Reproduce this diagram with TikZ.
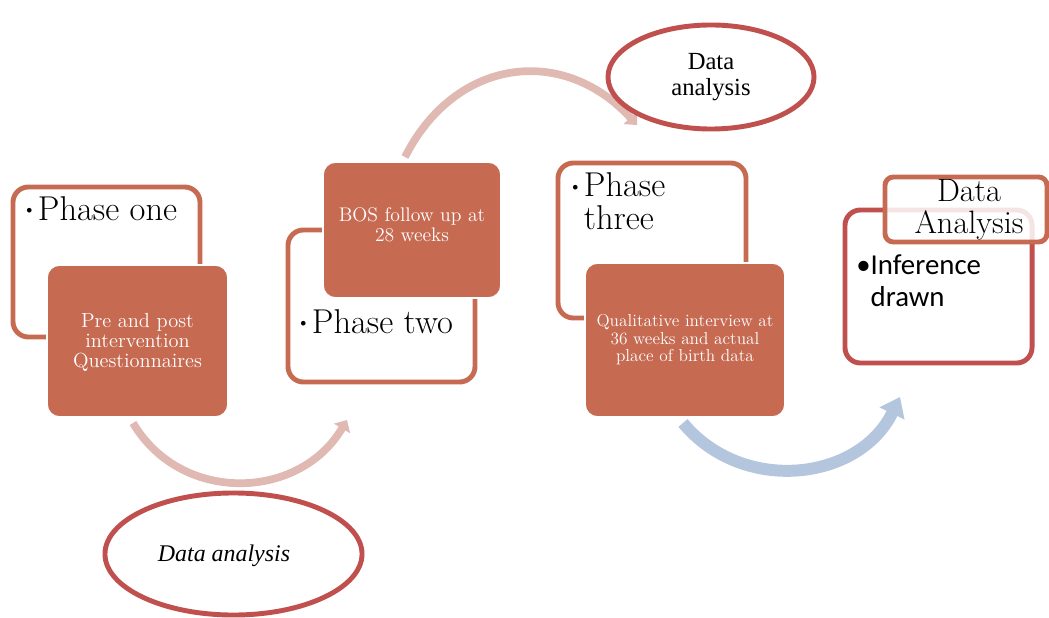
\documentclass[tikz,border=0pt]{standalone}
\usepackage{fontspec}
\newfontfamily\timesfont{Liberation Serif}
\newfontfamily\calibrifont{Carlito}
\usetikzlibrary{arrows.meta,shapes.geometric}

\definecolor{phasecol}{RGB}{198,106,82}
\definecolor{redcol}{RGB}{192,80,77}
\definecolor{pinkcol}{RGB}{223,185,178}
\definecolor{bluecol}{RGB}{180,197,222}

\tikzset{
  outbox/.style={draw=phasecol, line width=3.5pt, rounded corners=11pt, inner sep=0pt},
  fillbox/.style={fill=phasecol, draw=white, line width=1.2pt, rounded corners=9pt, inner sep=0pt},
  whitetext/.style={text=white, align=center, inner sep=0pt},
  phasetext/.style={inner sep=0pt, align=left, font=\fontsize{24.5}{23.5}\selectfont},
  daoval/.style={ellipse, draw=redcol, line width=3.5pt, inner sep=0pt},
  pinkarrow/.style={draw=pinkcol, line width=5.5pt, -{Triangle[length=7pt,width=13pt]}},
  bluearrow/.style={draw=bluecol, line width=8.5pt, -{Triangle[length=13pt,width=19pt]}}
}
\newcommand{\bul}{\raisebox{4.5pt}{\fontsize{8}{8}\selectfont$\bullet$}\hspace{4pt}}

\begin{document}
\begin{tikzpicture}[x=0.025cm, y=-0.025cm]
    \useasboundingbox (0,0) rectangle (1049,617);

    % curved arrows
    \coordinate (a1s) at (133,423);
    \coordinate (a1e) at (347,420);
    \coordinate (a2s) at (405,157);
    \coordinate (a2e) at (637,125);
    \coordinate (a3s) at (683,423);
    \coordinate (a3e) at (900,397);
    \draw[pinkarrow] (a1s) .. controls (181,504) and (299,501) .. (a1e);
    \draw[pinkarrow] (a2s) .. controls (455,58) and (563,44) .. (a2e);
    \draw[bluearrow] (a3s) .. controls (743,495) and (859,481) .. (a3e);

    % phase one
    \node[outbox, minimum width=4.675cm, minimum height=3.75cm] (one) at (106.5,262) {};
    \node[phasetext, anchor=base west] (onetxt) at (26,220) {\bul Phase one};
    \node[fillbox, minimum width=4.525cm, minimum height=3.8cm] (onefill) at (137.5,341) {};
    \node[whitetext, font=\fontsize{14.5}{14.2}\selectfont] (onefilltxt) at (137.5,342)
        {Pre and post\\intervention\\Questionnaires};

    % phase two
    \node[outbox, minimum width=4.675cm, minimum height=3.8cm] (two) at (381.5,306) {};
    \node[phasetext, anchor=base west] (twotxt) at (300,333) {\bul Phase two};
    \node[fillbox, minimum width=4.45cm, minimum height=3.4cm] (twofill) at (412,230) {};
    \node[whitetext, font=\fontsize{14}{14.2}\selectfont] (twofilltxt) at (412,225)
        {BOS follow up at\\28 weeks};

    % phase three
    \node[outbox, minimum width=4.7cm, minimum height=3.875cm] (three) at (652,240.5) {};
    \node[phasetext, anchor=west] (threetxt) at (572,201.5) {\bul Phase\\\hphantom{\bul}three};
    \node[fillbox, minimum width=5cm, minimum height=3.85cm] (threefill) at (685,340) {};
    \node[whitetext, font=\fontsize{12.3}{12.5}\selectfont] (threefilltxt) at (685,340)
        {Qualitative interview at\\36 weeks and actual\\place of birth data};

    % inference
    \node[outbox, draw=redcol, minimum width=4.675cm, minimum height=3.825cm] (four) at (938.5,286.5) {};
    \node[inner sep=0pt, align=left, anchor=west, font=\calibrifont\fontsize{20.5}{23}\selectfont]
        (fourtxt) at (856,281) {•Inference\\\hphantom{•}drawn};
    \node[outbox, rounded corners=6pt, fill=white, fill opacity=0.85, minimum width=4.05cm,
        minimum height=1.625cm] (head) at (966,209.5) {};
    \node[align=center, inner sep=0pt, font=\fontsize{23}{23}\selectfont] (headtxt) at (969,210)
        {Data\\Analysis};

    % data analysis ovals
    \node[daoval, minimum width=5.15cm, minimum height=2.6cm, align=center,
        font=\timesfont\fontsize{17.5}{18.5}\selectfont] (datop) at (711,77) {Data\\analysis};
    \node[daoval, minimum width=6.425cm, minimum height=3.05cm] (dabot) at (233.5,554) {};
    \node[inner sep=0pt, font=\timesfont\itshape\fontsize{17}{18}\selectfont] (dabottxt) at (224,556)
        {Data analysis};
\end{tikzpicture}
\end{document}
